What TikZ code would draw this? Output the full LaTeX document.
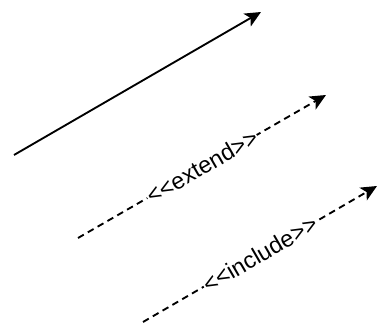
\documentclass[tikz,border=0pt]{standalone}
\usepackage{fontspec}
\setmainfont{Liberation Sans}
\usetikzlibrary{arrows.meta}

\tikzset{
    link/.style={line width=1.4pt,-{Stealth[length=12pt,width=11pt,inset=3pt]}},
    dep/.style={link,dash pattern=on 5pt off 3.5pt},
    stereo/.style={fill=white,inner sep=0.5pt,font=\fontsize{17.5}{20}\selectfont}
}

\begin{document}
\begin{tikzpicture}[x=0.75pt,y=-0.75pt]
    \useasboundingbox (0,0) rectangle (377,327);
    % plain association
    \coordinate (a1) at (14,155);
    \coordinate (a2) at (261,12);
    \draw[link] (a1)--(a2);
    % extend dependency
    \coordinate (e1) at (78,238);
    \coordinate (e2) at (326,95);
    \draw[dep] (e1)--(e2) node[midway,sloped,stereo] {<{}<extend>{}>};
    % include dependency
    \coordinate (i1) at (143,322);
    \coordinate (i2) at (377,186);
    \draw[dep] (i1)--(i2) node[midway,sloped,stereo] {<{}<include>{}>};
\end{tikzpicture}
\end{document}
